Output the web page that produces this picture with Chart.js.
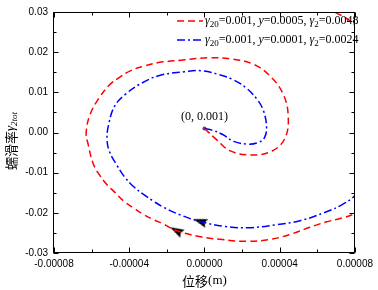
<!DOCTYPE html>
<html>
<head>
<meta charset="utf-8">
<script src="https://cdn.jsdelivr.net/npm/chart.js@4.4.0/dist/chart.umd.min.js"></script>
<style>
  html, body { margin: 0; padding: 0; background: #fff; }
</style>
</head>
<body>
<canvas id="chart" width="378" height="290"></canvas>
<script>
// spiral 1 (red, dashed), start at (0, 0.001)
const redX = [0, 6.0e-6, 1.34e-5, 2.45e-5, 3.6e-5, 4.29e-5, 4.45e-5, 4.18e-5, 3.5e-5, 2.6e-5,
  1.45e-5, 2.4e-6, -1.24e-5, -2.45e-5, -3.24e-5, -3.92e-5, -4.5e-5, -5.08e-5, -5.6e-5, -6.08e-5,
  -6.29e-5, -6.18e-5, -5.92e-5, -5.55e-5, -5.18e-5, -4.76e-5, -4.29e-5, -3.76e-5, -3.24e-5, -2.71e-5,
  -2.18e-5, -1.5e-5, -2.9e-6, 8.2e-6, 2.24e-5, 3.5e-5, 4.6e-5, 5.6e-5, 6.45e-5, 7.3e-5,
  8.0e-5, 9.0e-5, 9.5e-5, 9.65e-5, 9.3e-5, 8.6e-5, 8.0e-5, 7.0e-5, 5.0e-5];
const redY = [0.001, -0.0016, -0.0045, -0.0056, -0.0046, -0.0013, 0.0043, 0.0096, 0.014, 0.017,
  0.0183, 0.0186, 0.018, 0.0174, 0.0165, 0.0154, 0.0138, 0.0117, 0.0086, 0.0045,
  -0.0001, -0.003, -0.0077, -0.0108, -0.013, -0.0149, -0.0171, -0.0188, -0.0204, -0.0217,
  -0.0228, -0.0244, -0.0259, -0.0266, -0.0271, -0.0266, -0.0253, -0.0236, -0.0223, -0.0213,
  -0.0200, -0.0145, -0.005, 0.005, 0.016, 0.0235, 0.0268, 0.0298, 0.0335];

// spiral 2 (blue, dash-dot)
const blueX = [0, 3.9e-6, 9.7e-6, 1.55e-5, 2.34e-5, 2.9e-5, 3.2e-5, 3.3e-5, 3.13e-5, 2.82e-5,
  2.24e-5, 1.55e-5, 7.1e-6, -1.8e-6, -1.08e-5, -2.39e-5, -3.45e-5, -4.18e-5, -4.76e-5, -5.08e-5,
  -5.18e-5, -5.03e-5, -4.66e-5, -4.29e-5, -3.76e-5, -3.24e-5, -2.71e-5, -2.18e-5, -1.29e-5, -2.9e-6,
  1.13e-5, 2.34e-5, 3.76e-5, 5.13e-5, 6.39e-5, 7.34e-5, 8.0e-5, 8.8e-5, 9.4e-5];
const blueY = [0.001, 0.0006, -0.0005, -0.0022, -0.0029, -0.0024, -0.0012, 0.0015, 0.0055, 0.0081,
  0.011, 0.0131, 0.0145, 0.0154, 0.0151, 0.0142, 0.012, 0.0096, 0.0067, 0.0023,
  -0.0018, -0.005, -0.0081, -0.0108, -0.0135, -0.0154, -0.0171, -0.0186, -0.0205, -0.0221,
  -0.0234, -0.0237, -0.023, -0.0219, -0.0199, -0.0179, -0.0157, -0.011, -0.003];

// direction arrows on each curve
const arrowRedX = [-1.5e-5], arrowRedY = [-0.0244], arrowRedAngle = [28];
const arrowBlueX = [-2.4e-6], arrowBlueY = [-0.0221], arrowBlueAngle = [18];

// start point and its label
const startX = [0], startY = [0.001], startText = ['(0, 0.001)'];

// ticks
const xMajor = [-0.00008, -0.00004, 0, 0.00004, 0.00008];
const xMinor = [-0.00006, -0.00002, 0.00002, 0.00006];
const yMajor = [-0.03, -0.02, -0.01, 0, 0.01, 0.02, 0.03];
const yMinor = [-0.025, -0.015, -0.005, 0.005, 0.015, 0.025];

// legend labels as [text, style]  (i = italic, s = subscript, c = CJK)
const legendRed = [['γ', 'i'], ['20', 's'], ['=0.001, ', ''], ['y', 'i'], ['=0.0005, ', ''], ['γ', 'i'], ['2', 's'], ['=0.0048', '']];
const legendBlue = [['γ', 'i'], ['20', 's'], ['=0.001, ', ''], ['y', 'i'], ['=0.0001, ', ''], ['γ', 'i'], ['2', 's'], ['=0.0024', '']];
const yTitle = [['蠕滑率', 'c'], ['γ', 'i'], ['2tot', 'si']];
const xTitle = [['位移', 'c'], ['(m)', '']];

const RED = '#ff0000', BLUE = '#0000ff';
const redDash = [7, 4], blueDash = [8, 3, 2, 3];

const pts = (xs, ys) => xs.map((x, i) => ({ x: x, y: ys[i] }));

function arrowHead() {
  const c = document.createElement('canvas');
  c.width = 14; c.height = 9;
  const g = c.getContext('2d');
  g.fillStyle = '#000';
  g.beginPath();
  g.moveTo(0, 4.5); g.lineTo(14, 0); g.lineTo(12, 4.5); g.lineTo(14, 9);
  g.closePath(); g.fill();
  return c;
}
const arrowImg = arrowHead();

function fontFor(style, size) {
  if (style.includes('c')) return size + 'px "Noto Sans CJK SC"';
  const fs = style.includes('s') ? Math.round(size * 0.72) : size;
  return (style.includes('i') ? 'italic ' : '') + fs + 'px "Liberation Serif"';
}
function richWidth(ctx, parts, size) {
  let w = 0;
  parts.forEach(p => { ctx.font = fontFor(p[1], size); w += ctx.measureText(p[0]).width; });
  return w;
}
function drawRich(ctx, parts, x, y, size) {
  parts.forEach(p => {
    ctx.font = fontFor(p[1], size);
    const dy = p[1].includes('s') ? size * 0.3 : 0;
    ctx.fillText(p[0], x, y + dy);
    x += ctx.measureText(p[0]).width;
  });
}

const decor = {
  id: 'decor',
  afterDatasetsDraw(chart) {
    const { ctx, chartArea: a, scales: { x, y } } = chart;
    ctx.save();
    ctx.strokeStyle = '#000';
    ctx.lineWidth = 1;
    const L = Math.round(a.left) - 0.5, R = Math.round(a.right) - 0.5;
    const T = Math.round(a.top) + 0.5, B = Math.round(a.bottom) - 0.5;
    ctx.strokeRect(L, T, R - L, B - T);

    // inward ticks on all four sides
    ctx.beginPath();
    const tx = (v, len) => {
      const p = Math.round(x.getPixelForValue(v)) + 0.5;
      ctx.moveTo(p, B); ctx.lineTo(p, B - len);
      ctx.moveTo(p, T); ctx.lineTo(p, T + len);
    };
    const ty = (v, len) => {
      const p = Math.round(y.getPixelForValue(v)) + 0.5;
      ctx.moveTo(L, p); ctx.lineTo(L + len, p);
      ctx.moveTo(R, p); ctx.lineTo(R - len, p);
    };
    xMajor.forEach(v => tx(v, 5)); xMinor.forEach(v => tx(v, 3));
    yMajor.forEach(v => ty(v, 5)); yMinor.forEach(v => ty(v, 3));
    ctx.stroke();

    // start label
    ctx.fillStyle = '#000';
    ctx.textAlign = 'center';
    ctx.textBaseline = 'middle';
    ctx.font = '12px "Liberation Serif"';
    startText.forEach((t, i) => {
      ctx.fillText(t, x.getPixelForValue(startX[i]), y.getPixelForValue(startY[i]) - 12);
    });

    // legend (inside, top right)
    ctx.textAlign = 'left';
    const rows = [[legendRed, RED, redDash], [legendBlue, BLUE, blueDash]];
    rows.forEach((r, i) => {
      const ly = a.top + 9 + i * 19;
      ctx.strokeStyle = r[1];
      ctx.lineWidth = 1.5;
      ctx.setLineDash(r[2]);
      ctx.beginPath();
      ctx.moveTo(a.left + 123, ly); ctx.lineTo(a.left + 149, ly);
      ctx.stroke();
      ctx.setLineDash([]);
      drawRich(ctx, r[0], a.left + 151, ly, 12);
    });

    // axis titles
    const xw = richWidth(ctx, xTitle, 13);
    drawRich(ctx, xTitle, (a.left + a.right) / 2 - xw / 2, 281, 13);
    ctx.save();
    ctx.translate(11, 141);
    ctx.rotate(-Math.PI / 2);
    const yw = richWidth(ctx, yTitle, 13);
    drawRich(ctx, yTitle, -yw / 2, 0, 13);
    ctx.restore();
    ctx.restore();
  }
};

const tickFont = { family: 'Liberation Sans', size: 10 };

new Chart(document.getElementById('chart'), {
  type: 'scatter',
  data: {
    datasets: [
      { data: pts(redX, redY), showLine: true, borderColor: RED, borderWidth: 1.5,
        borderDash: redDash, pointRadius: 0, tension: 0.4 },
      { data: pts(blueX, blueY), showLine: true, borderColor: BLUE, borderWidth: 1.5,
        borderDash: blueDash, pointRadius: 0, tension: 0.4 },
      { data: pts(arrowRedX, arrowRedY), pointStyle: arrowImg, pointRadius: 5,
        pointRotation: arrowRedAngle[0] },
      { data: pts(arrowBlueX, arrowBlueY), pointStyle: arrowImg, pointRadius: 5,
        pointRotation: arrowBlueAngle[0] },
      { data: pts(startX, startY), pointRadius: 2, pointBackgroundColor: '#555',
        pointBorderColor: '#555', pointBorderWidth: 0 }
    ]
  },
  options: {
    responsive: false,
    animation: false,
    layout: { padding: { top: 6, right: 20, left: 0, bottom: 0 } },
    elements: { line: { capBezierPoints: false } },
    plugins: { legend: { display: false }, tooltip: { enabled: false } },
    scales: {
      x: {
        type: 'linear', min: -0.00008, max: 0.00008,
        grid: { display: false, drawTicks: false }, border: { display: false },
        ticks: { stepSize: 0.00004, autoSkip: false, maxRotation: 0, padding: 5,
          color: '#000', font: tickFont,
          callback: v => (Math.abs(v) < 1e-12 ? 0 : v).toFixed(5) },
        afterFit: s => { s.height = 37; }
      },
      y: {
        min: -0.03, max: 0.03,
        grid: { display: false, drawTicks: false }, border: { display: false },
        ticks: { stepSize: 0.01, padding: 6, color: '#000', font: tickFont,
          callback: v => (Math.abs(v) < 1e-12 ? 0 : v).toFixed(2) },
        afterFit: s => { s.width = 54; }
      }
    }
  },
  plugins: [decor]
});
</script>
</body>
</html>
